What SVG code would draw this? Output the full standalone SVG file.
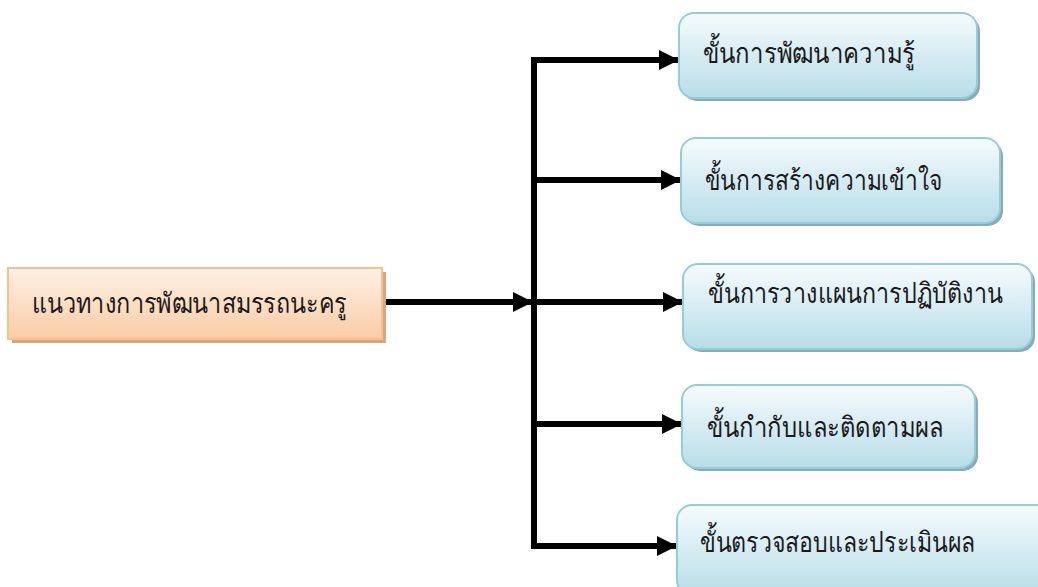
<svg xmlns="http://www.w3.org/2000/svg" width="1038" height="587" viewBox="0 0 1038 587">
  <style>
    .lbl { font-family: "Noto Sans", "DejaVu Sans", sans-serif; font-size: 28px; font-weight: 300; fill: #1a1a1a; }
    .step { fill: url(#blueFill); stroke: #92cddc; stroke-width: 2; }
    .stepShadow { fill: #8fa9b3; }
    .wire { fill: none; stroke: #000; stroke-width: 6; }
  </style>
  <defs>
    <linearGradient id="blueFill" x1="0" y1="0" x2="0" y2="1">
      <stop offset="0" stop-color="#f6fbfd"/>
      <stop offset="1" stop-color="#b7dde8"/>
    </linearGradient>
    <linearGradient id="orangeFill" x1="0" y1="0" x2="0" y2="1">
      <stop offset="0" stop-color="#fef1e6"/>
      <stop offset="1" stop-color="#f9cca4"/>
    </linearGradient>
    <marker id="head" viewBox="0 0 20 20" refX="20" refY="10" markerWidth="20" markerHeight="20" markerUnits="userSpaceOnUse" orient="auto">
      <path d="M0,0 L20,10 L0,20 Z" fill="#000"/>
    </marker>
  </defs>

  <!-- connectors -->
  <g id="connectors">
    <path class="wire" d="M534,60 L534,546"/>
    <path class="wire" d="M382,302 L533,302" marker-end="url(#head)"/>
    <path class="wire" d="M531,60 L679,60" marker-end="url(#head)"/>
    <path class="wire" d="M534,180 L681,180" marker-end="url(#head)"/>
    <path class="wire" d="M534,302 L683,302" marker-end="url(#head)"/>
    <path class="wire" d="M534,424 L682,424" marker-end="url(#head)"/>
    <path class="wire" d="M531,546 L677,546" marker-end="url(#head)"/>
  </g>

  <!-- source node -->
  <g id="source">
    <rect x="12" y="272" width="374" height="71" fill="#d2a784"/>
    <rect x="8" y="268" width="374" height="71" fill="url(#orangeFill)" stroke="#f7bf8e" stroke-width="2"/>
    <text class="lbl" x="32" y="313" textLength="315" lengthAdjust="spacingAndGlyphs">แนวทางการพัฒนาสมรรถนะครู</text>
  </g>

  <!-- step nodes -->
  <g id="step1">
    <rect class="stepShadow" x="682" y="16" width="298" height="85" rx="15"/>
    <rect class="step" x="679" y="13" width="298" height="85" rx="15"/>
    <text class="lbl" x="703" y="63" textLength="212" lengthAdjust="spacingAndGlyphs">ขั้นการพัฒนาความรู้</text>
  </g>
  <g id="step2">
    <rect class="stepShadow" x="684" y="141" width="319" height="85" rx="15"/>
    <rect class="step" x="681" y="138" width="319" height="85" rx="15"/>
    <text class="lbl" x="705" y="190" textLength="237" lengthAdjust="spacingAndGlyphs">ขั้นการสร้างความเข้าใจ</text>
  </g>
  <g id="step3">
    <rect class="stepShadow" x="686" y="267" width="349" height="85" rx="15"/>
    <rect class="step" x="683" y="264" width="349" height="85" rx="15"/>
    <text class="lbl" x="708" y="303" textLength="295" lengthAdjust="spacingAndGlyphs">ขั้นการวางแผนการปฏิบัติงาน</text>
  </g>
  <g id="step4">
    <rect class="stepShadow" x="685" y="388" width="293" height="83" rx="15"/>
    <rect class="step" x="682" y="385" width="293" height="83" rx="15"/>
    <text class="lbl" x="707" y="437" textLength="236" lengthAdjust="spacingAndGlyphs">ขั้นกำกับและติดตามผล</text>
  </g>
  <g id="step5">
    <rect class="stepShadow" x="680" y="508" width="380" height="90" rx="15"/>
    <rect class="step" x="677" y="505" width="380" height="90" rx="15"/>
    <text class="lbl" x="700" y="552" textLength="275" lengthAdjust="spacingAndGlyphs">ขั้นตรวจสอบและประเมินผล</text>
  </g>
</svg>
